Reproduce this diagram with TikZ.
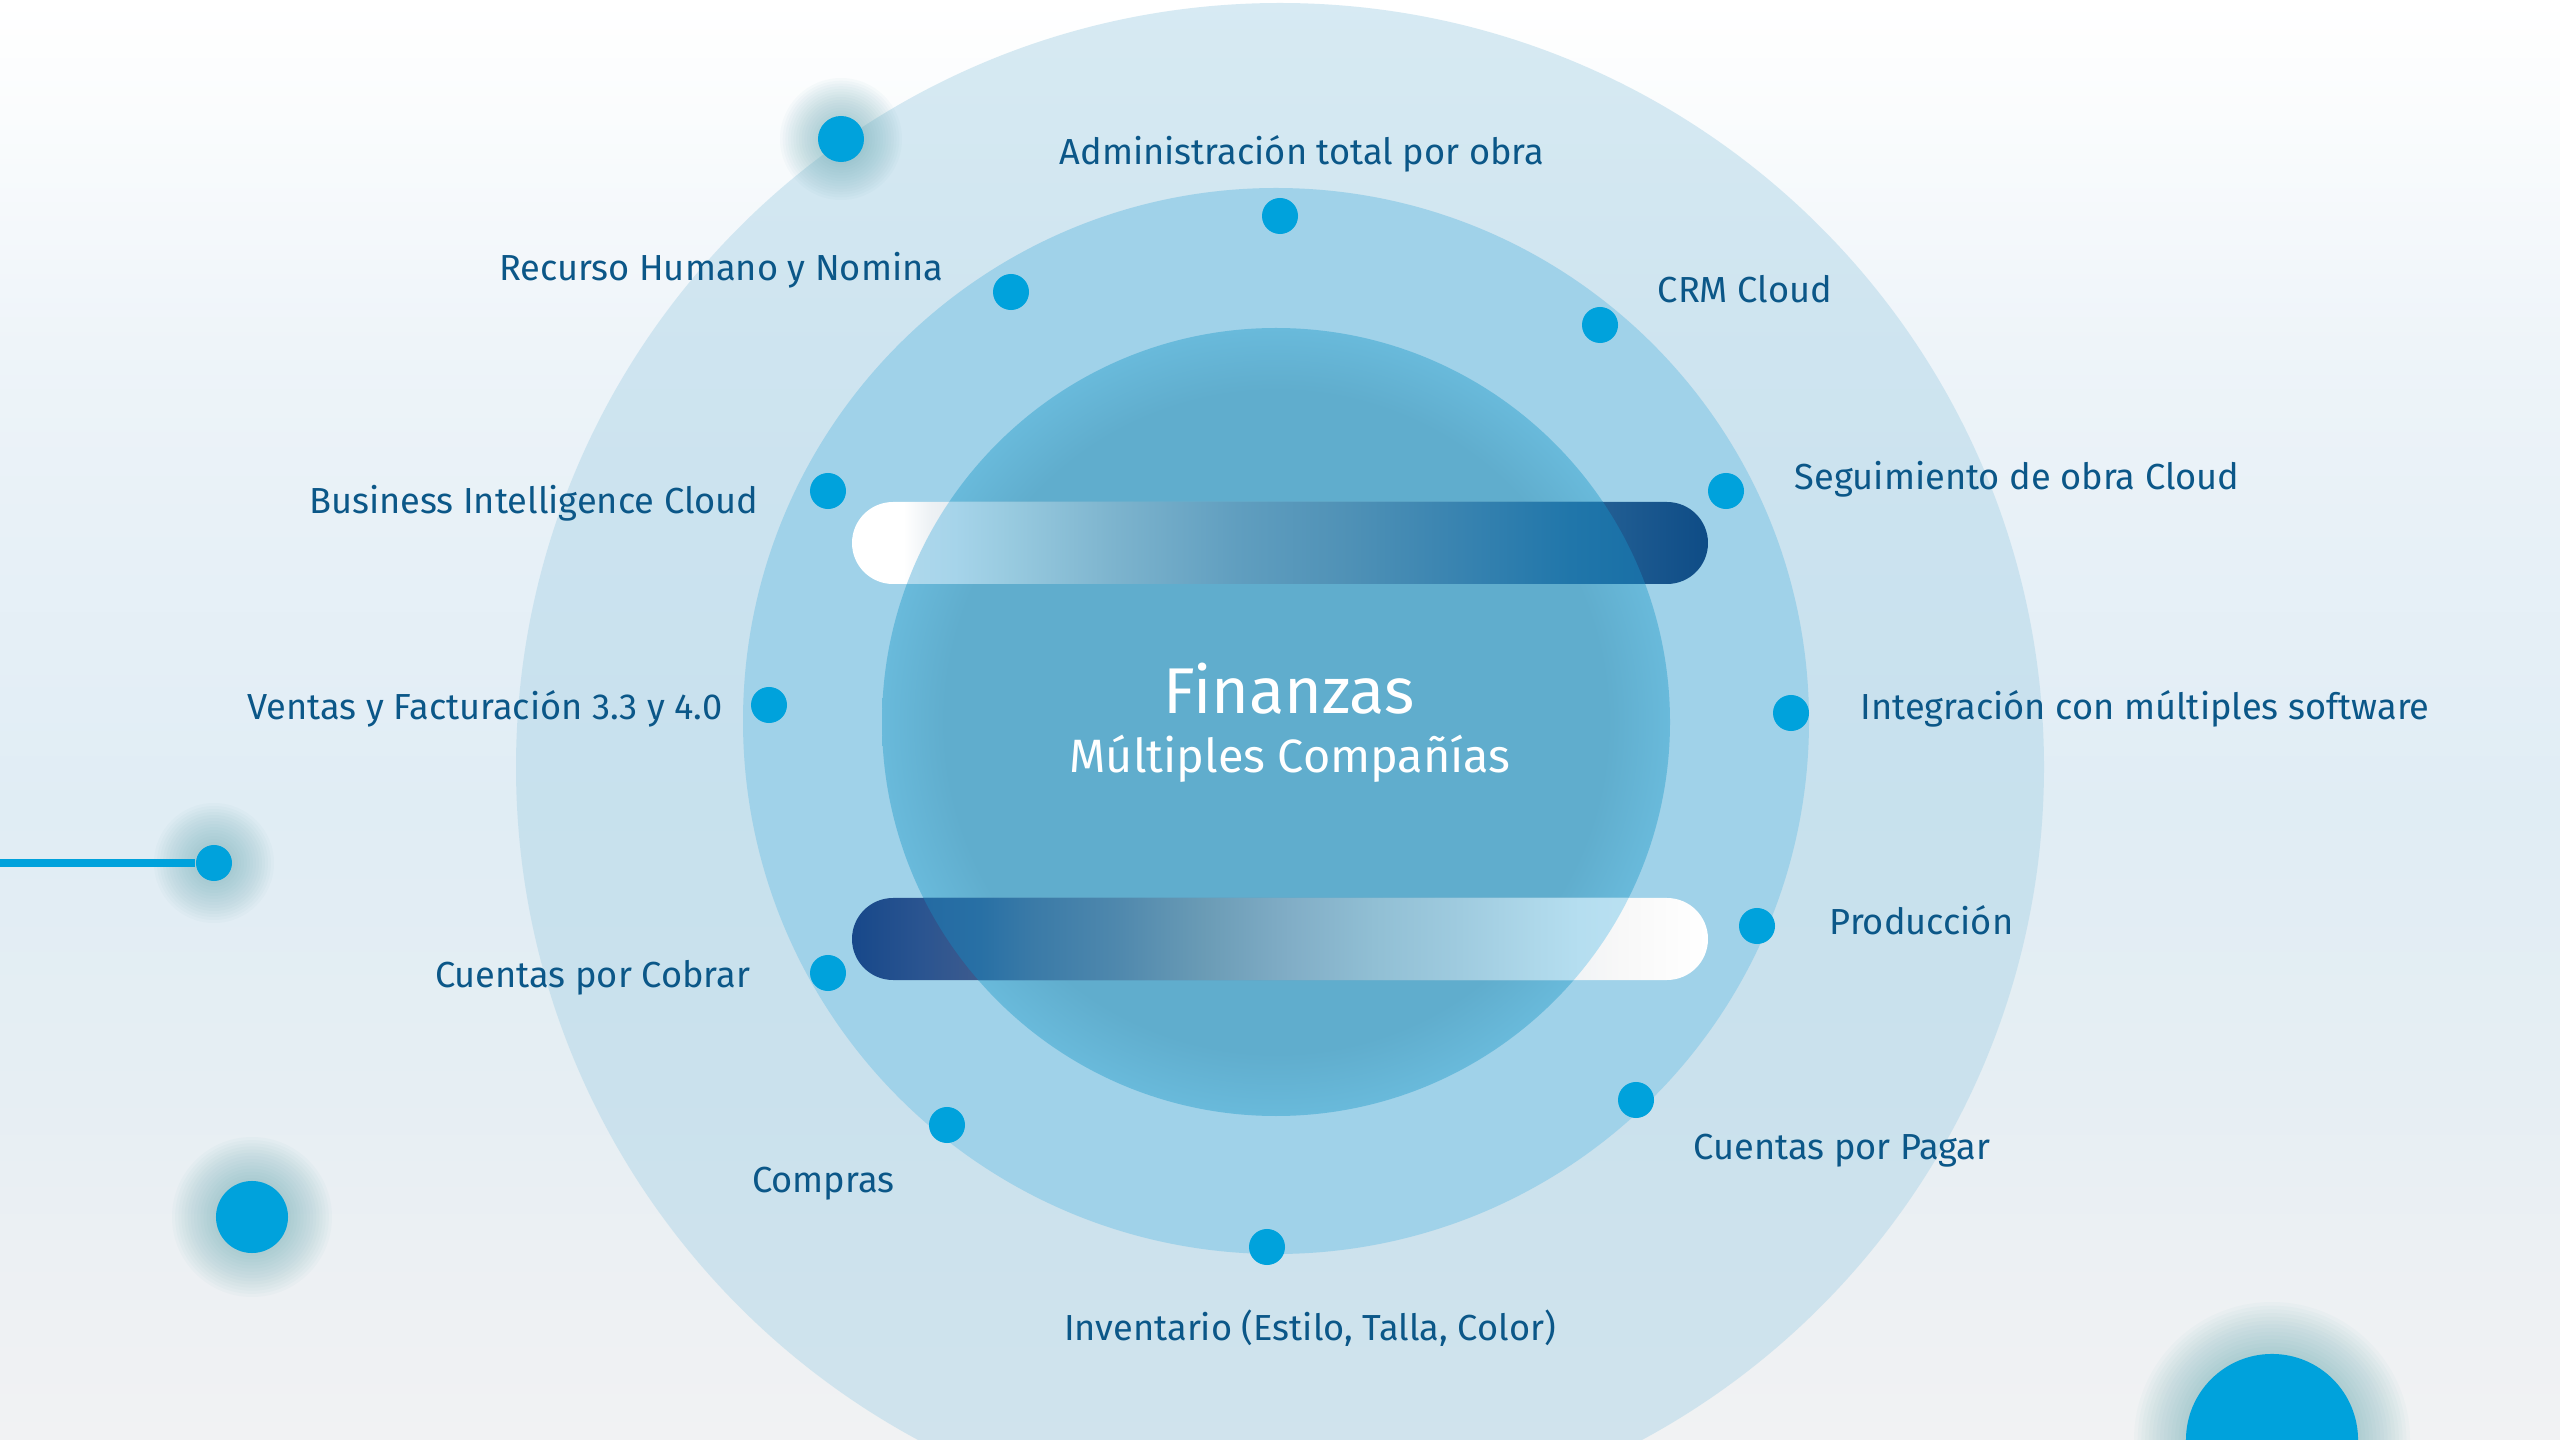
\documentclass[tikz,border=0pt]{standalone}
\usepackage{fontspec}
\setmainfont{Fira Sans}

\definecolor{dotblue}{HTML}{00A2DC}
\definecolor{labelblue}{HTML}{0B5788}
\definecolor{outerring}{HTML}{B0D6E8}
\definecolor{middlering}{HTML}{A0D2E9}
\definecolor{innercore}{HTML}{60ADCD}
\definecolor{innerrim}{HTML}{69BADB}
\definecolor{glowteal}{HTML}{6FAEB8}

% backdrop colours, bottom to top
\definecolor{bgA}{HTML}{F1F2F3}
\definecolor{bgB}{HTML}{ECF0F3}
\definecolor{bgC}{HTML}{E6EEF3}
\definecolor{bgD}{HTML}{E0EDF4}
\definecolor{bgE}{HTML}{E3EEF6}
\definecolor{bgF}{HTML}{E8F1F7}
\definecolor{bgG}{HTML}{EEF4F9}
\definecolor{bgH}{HTML}{F4F8FB}
\definecolor{bgI}{HTML}{FAFCFD}

% top bar colours
\definecolor{tboA}{HTML}{EEF2F5}
\definecolor{tboB}{HTML}{7896AF}
\definecolor{tboC}{HTML}{1E5B91}
\definecolor{tboD}{HTML}{0E4C86}
\definecolor{tbiA}{HTML}{B8DEEE}
\definecolor{tbiB}{HTML}{A6D4EA}
\definecolor{tbiC}{HTML}{99CBE0}
\definecolor{tbiD}{HTML}{7CB3CD}
\definecolor{tbiE}{HTML}{609EBF}
\definecolor{tbiF}{HTML}{4F91B6}
\definecolor{tbiG}{HTML}{3883B0}
\definecolor{tbiH}{HTML}{2076AA}
\definecolor{tbiI}{HTML}{136AA3}

% bottom bar colours
\definecolor{lboA}{HTML}{17488A}
\definecolor{lboB}{HTML}{2A5490}
\definecolor{lboC}{HTML}{3B5A8E}
\definecolor{lboD}{HTML}{50709A}
\definecolor{lboE}{HTML}{90AFC5}
\definecolor{lboF}{HTML}{F2F4F6}
\definecolor{lboG}{HTML}{F8F8F8}
\definecolor{lbiA}{HTML}{1F64A0}
\definecolor{lbiB}{HTML}{2870A5}
\definecolor{lbiC}{HTML}{3A7AA7}
\definecolor{lbiD}{HTML}{4F88AD}
\definecolor{lbiE}{HTML}{6A9BB5}
\definecolor{lbiF}{HTML}{81ADC6}
\definecolor{lbiG}{HTML}{91BFD4}
\definecolor{lbiH}{HTML}{9FCBDF}
\definecolor{lbiI}{HTML}{AED8EA}
\definecolor{lbiJ}{HTML}{B5DEF0}
\definecolor{lbiK}{HTML}{C0E4F4}

% backdrop and core shadings (the path fills 25bp to 75bp)
\pgfdeclareverticalshading{backdrop}{100bp}{color(0bp)=(bgA); color(25bp)=(bgA); color(31.5bp)=(bgB);
  color(37bp)=(bgC); color(47bp)=(bgD); color(50.5bp)=(bgE); color(57bp)=(bgF); color(63bp)=(bgG);
  color(67bp)=(bgH); color(71bp)=(bgI); color(75bp)=(white); color(100bp)=(white)}
\pgfdeclareradialshading{coreshade}{\pgfpointorigin}{color(0bp)=(innercore); color(21bp)=(innercore);
  color(25bp)=(innerrim); color(50bp)=(innerrim)}

% bar shadings: as seen outside and inside the core circle
\pgfdeclarehorizontalshading{topbarout}{100bp}{color(0bp)=(white); color(28bp)=(white); color(29.5bp)=(tboA);
  color(50bp)=(tboB); color(70bp)=(tboC); color(75bp)=(tboD); color(100bp)=(tboD)}
\pgfdeclarehorizontalshading{topbarin}{100bp}{color(0bp)=(tbiA); color(25bp)=(tbiA); color(31bp)=(tbiB);
  color(34bp)=(tbiC); color(40.5bp)=(tbiD); color(47.5bp)=(tbiE); color(54bp)=(tbiF); color(60.5bp)=(tbiG);
  color(67bp)=(tbiH); color(75bp)=(tbiI); color(100bp)=(tbiI)}
\pgfdeclarehorizontalshading{lowbarout}{100bp}{color(0bp)=(lboA); color(25bp)=(lboA); color(29bp)=(lboB);
  color(32bp)=(lboC); color(40bp)=(lboD); color(55bp)=(lboE); color(67.5bp)=(lboF); color(70bp)=(lboG);
  color(75bp)=(white); color(100bp)=(white)}
\pgfdeclarehorizontalshading{lowbarin}{100bp}{color(0bp)=(lbiA); color(25bp)=(lbiA); color(32.5bp)=(lbiB);
  color(35.5bp)=(lbiC); color(40.5bp)=(lbiD); color(45.5bp)=(lbiE); color(50.5bp)=(lbiF); color(55.5bp)=(lbiG);
  color(60.5bp)=(lbiH); color(65bp)=(lbiI); color(67.5bp)=(lbiJ); color(75bp)=(lbiK); color(100bp)=(lbiK)}

\tikzset{
  spot/.style={circle, fill=dotblue, inner sep=0pt, minimum size=0.36cm},
  caption/.style={text=labelblue, inner sep=0pt, font=\fontsize{10.3}{12}\selectfont},
  bar/.style={rounded corners=0.41cm}
}

\begin{document}
\begin{tikzpicture}[x=0.01cm, y=-0.01cm]
            \useasboundingbox (0,0) rectangle (2560,1440);
            \clip (0,0) rectangle (2560,1440);

            % Drawing background
            \shade [shading=backdrop] (0,0) rectangle (2560,1440);%

            % Drawing rings
            \fill [outerring, opacity=0.5] (1280,767) circle (764);%
            \fill [middlering] (1276,721) circle (533);%
            \shade [shading=coreshade] (1276,722) circle (394);%

            % Drawing top bar
            \shade [bar, shading=topbarout] (852,502) rectangle (1708,584);%
            \begin{scope}
              \clip (1276,722) circle (394);
              \shade [bar, shading=topbarin] (852,502) rectangle (1708,584);%
            \end{scope}

            % Drawing bottom bar
            \shade [bar, shading=lowbarout] (852,898) rectangle (1708,980);%
            \begin{scope}
              \clip (1276,722) circle (394);
              \shade [bar, shading=lowbarin] (852,898) rectangle (1708,980);%
            \end{scope}

            % Centre text
            \node [anchor=base, text=white, inner sep=0pt, font=\fontsize{18.4}{22}\selectfont] (title) at (1289,714) {Finanzas};%
            \node [anchor=base, text=white, inner sep=0pt, font=\fontsize{13.3}{16}\selectfont] (subtitle) at (1290,773) {Múltiples Compañías};%

            % Glow round the loose dots
            \foreach \cx/\cy/\r/\g in {841/139/23/38, 214/863/18/42, 252/1217/36/44, 2272/1440/86/52}
              \foreach \k in {1,...,14}
                \fill [glowteal, opacity=0.045] (\cx,\cy) circle (\r+\k*\g/14);%

            % Loose dots
            \node [spot, minimum size=0.46cm] (dotTop) at (841,139) {};%
            \node [spot, minimum size=0.72cm] (dotLeft) at (252,1217) {};%
            \node [spot, minimum size=1.72cm] (dotCorner) at (2272,1440) {};%

            % Line into the dot at the left
            \coordinate (lineStart) at (0,863);
            \node [spot] (dotLine) at (214,863) {};%
            \draw [dotblue, line width=0.07cm] (lineStart) -- (dotLine);%

            % Marking Administración
            \node [spot] (dAdmin) at (1280,216) {};%
            \node [caption, anchor=base] (tAdmin) at (1302,165) {Administración total por obra};%

            % Marking CRM
            \node [spot] (dCrm) at (1600,325) {};%
            \node [caption, anchor=base west] (tCrm) at (1657,303) {CRM Cloud};%

            % Marking Seguimiento
            \node [spot] (dSeguim) at (1726,491) {};%
            \node [caption, anchor=base west] (tSeguim) at (1794,490) {Seguimiento de obra Cloud};%

            % Marking Integración
            \node [spot] (dInteg) at (1791,713) {};%
            \node [caption, anchor=base west] (tInteg) at (1860,720) {Integración con múltiples software};%

            % Marking Producción
            \node [spot] (dProd) at (1757,926) {};%
            \node [caption, anchor=base west] (tProd) at (1829,934) {Producción};%

            % Marking Cuentas por Pagar
            \node [spot] (dPagar) at (1636,1100) {};%
            \node [caption, anchor=base west] (tPagar) at (1693,1159) {Cuentas por Pagar};%

            % Marking Inventario
            \node [spot] (dInvent) at (1267,1247) {};%
            \node [caption, anchor=base] (tInvent) at (1310,1340) {Inventario (Estilo, Talla, Color)};%

            % Marking Compras
            \node [spot] (dCompras) at (947,1125) {};%
            \node [caption, anchor=base east] (tCompras) at (895,1192) {Compras};%

            % Marking Cuentas por Cobrar
            \node [spot] (dCobrar) at (828,973) {};%
            \node [caption, anchor=base east] (tCobrar) at (751,988) {Cuentas por Cobrar};%

            % Marking Ventas
            \node [spot] (dVentas) at (769,705) {};%
            \node [caption, anchor=base east] (tVentas) at (723,720) {Ventas y Facturación 3.3 y 4.0};%

            % Marking Business Intelligence
            \node [spot] (dBi) at (828,491) {};%
            \node [caption, anchor=base east] (tBi) at (759,514) {Business Intelligence Cloud};%

            % Marking Recurso Humano
            \node [spot] (dRh) at (1011,292) {};%
            \node [caption, anchor=base east] (tRh) at (944,281) {Recurso Humano y Nomina};%
\end{tikzpicture}
\end{document}
